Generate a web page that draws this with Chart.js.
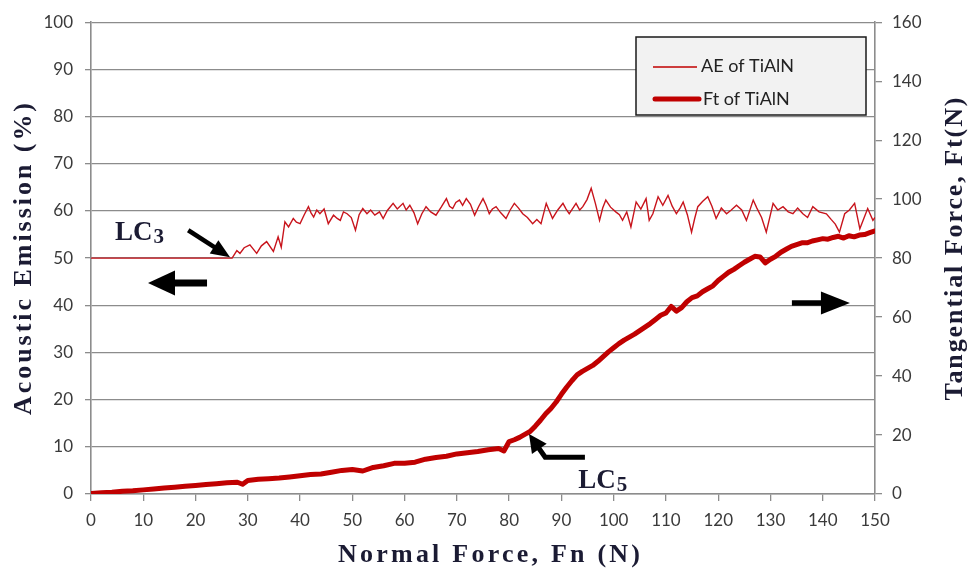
<!DOCTYPE html>
<html lang="en">
<head>
  <meta charset="UTF-8" />
  <title>AE and Ft of TiAlN</title>
  <script src="https://cdn.jsdelivr.net/npm/chart.js"></script>
  <style>
    html, body { margin: 0; padding: 0; background: white; }
    #wrap { width: 969px; height: 571px; }
  </style>
</head>
<body>
  <div id="wrap"><canvas id="scratch"></canvas></div>

  <script>
    // tick values
    const xTicks = [0, 10, 20, 30, 40, 50, 60, 70, 80, 90, 100, 110, 120, 130, 140, 150];
    const aeTicks = [0, 10, 20, 30, 40, 50, 60, 70, 80, 90, 100];
    const ftTicks = [0, 20, 40, 60, 80, 100, 120, 140, 160];

    // Acoustic emission (%) vs normal force (N)
    const aeX = [0, 27, 27.9, 28.5, 29.3, 30.4, 31.7, 32.6, 33.6, 34.9, 35.8, 36.4, 37.1, 37.8, 38.7, 39.3, 40, 40.8, 41.6, 42.1,
      42.6, 43.2, 43.8, 44.6, 45.4, 46.4, 47.1, 47.7, 48.3, 49, 49.8, 50.6, 51.3, 52, 52.8, 53.5, 54.3, 55.2, 55.9, 56.7,
      57.8, 58.6, 59.7, 60.3, 61, 61.8, 62.5, 63.3, 64.1, 65, 66, 67, 68, 68.6, 69.2, 69.8, 70.5, 71.1, 71.8, 72.6,
      73.4, 74.2, 75, 75.6, 76.2, 76.8, 77.5, 78.4, 79.4, 80.2, 81, 81.8, 82.6, 83.5, 84.5, 85.3, 86.1, 87.1, 87.7, 88.3,
      89.3, 90.3, 90.9, 91.5, 92.2, 92.8, 93.5, 94.1, 94.9, 95.7, 96.5, 97.3, 97.9, 98.5, 99.4, 100.4, 101.1, 101.7, 102.5, 103.3,
      104.3, 105.2, 106.2, 106.8, 107.5, 108.5, 109.4, 110.4, 111.2, 112, 112.7, 113.3, 114.1, 114.9, 115.5, 116.1, 117, 118, 118.8, 119.6,
      120.6, 121.6, 122.5, 123.5, 124.5, 125.4, 126.7, 127.4, 128.3, 129.2, 130.5, 131.4, 132.4, 133.4, 134.3, 135.2, 136.2, 137.1, 138.1, 139.3,
      140.7, 141.6, 142.4, 143.2, 144.2, 145.1, 146.1, 147.1, 148.6, 149.6, 150];
    const aeY = [50, 50, 51.6, 51, 52.2, 52.8, 51, 52.6, 53.5, 51.4, 54.5, 52.3, 57.7, 56.6, 58.4, 57.6, 57.3, 59.2, 60.9, 59.6,
      58.7, 60.2, 59.4, 60.4, 57.3, 59.1, 58.4, 58, 59.8, 59.4, 58.6, 55.9, 59.2, 60.5, 59.4, 60.2, 59.1, 59.8, 58.4, 60.1,
      61.6, 60.4, 61.6, 60.2, 61.2, 59.6, 57.3, 59.4, 60.9, 59.8, 59.1, 60.8, 62.6, 61, 60.5, 61.8, 62.3, 61.2, 62.6, 61.4,
      59.1, 61, 62.6, 61.2, 59.4, 60.4, 60.9, 59.6, 58.4, 60.2, 61.6, 60.6, 59.4, 58.6, 57.3, 58.2, 57.3, 61.6, 60, 58.4,
      60.2, 61.6, 60.4, 59.4, 60.6, 61.6, 60.2, 60.9, 62.4, 64.8, 61.6, 58, 60.6, 62.3, 60.8, 59.8, 59.2, 58, 59.8, 56.6,
      61.9, 60.4, 62.6, 58, 59.4, 63, 61.2, 63.3, 61, 59.4, 60.6, 61.9, 59.2, 55.5, 58.4, 60.9, 62, 63, 61, 58.4,
      60.6, 59.4, 60.2, 61.2, 60.2, 58, 62.3, 60.6, 58.6, 55.5, 61.6, 60.2, 60.9, 59.8, 59.4, 60.6, 59.4, 58.6, 60.9, 59.8,
      59.4, 58.2, 57.2, 55.5, 59.4, 60.2, 61.6, 56.2, 60.5, 58, 58.6];

    // Tangential force (N) vs normal force (N)
    const ftX = [0, 2, 4, 6, 8, 10, 12, 14, 16, 18, 20, 22, 24, 26, 28, 29, 30, 32, 34, 36,
      38, 40, 42, 44, 46, 48, 50, 52, 54, 56, 58, 60, 62, 64, 66, 68, 70, 72, 74, 76,
      78, 79, 80, 81, 82, 83, 84, 85, 86, 87, 88, 89, 90, 91, 92, 93, 94, 95, 96, 97,
      98, 99, 100, 101, 102, 103, 104, 105, 106, 107, 108, 109, 110, 111, 112, 113, 114, 115, 116, 117,
      118, 119, 120, 121, 122, 123, 124, 125, 126, 127, 128, 129, 130, 131, 132, 133, 134, 135, 136, 137,
      138, 139, 140, 141, 142, 143, 144, 145, 146, 147, 148, 149, 150];
    const ftY = [0.2, 0.4, 0.6, 0.9, 1.1, 1.4, 1.7, 2.0, 2.3, 2.6, 2.9, 3.2, 3.5, 3.8, 4.0, 3.3, 4.6, 5.0, 5.2, 5.4,
      5.8, 6.2, 6.6, 6.8, 7.4, 8.0, 8.3, 7.8, 9.0, 9.6, 10.4, 10.4, 10.8, 11.8, 12.4, 12.8, 13.6, 14.0, 14.4, 15.0,
      15.4, 14.6, 17.8, 18.4, 19.2, 20.2, 21.2, 23.0, 25.0, 27.2, 29.0, 31.2, 33.8, 36.2, 38.4, 40.4, 41.6, 42.6, 43.6, 45.0,
      46.6, 48.2, 49.6, 51.0, 52.2, 53.2, 54.2, 55.4, 56.6, 57.8, 59.2, 60.6, 61.4, 63.6, 62.0, 63.2, 65.2, 66.6, 67.2, 68.6,
      69.6, 70.6, 72.4, 73.8, 75.2, 76.2, 77.4, 78.6, 79.6, 80.6, 80.4, 78.4, 79.6, 80.6, 82.0, 83.0, 84.0, 84.6, 85.2, 85.2,
      85.8, 86.2, 86.6, 86.4, 87.0, 87.4, 86.8, 87.6, 87.2, 87.8, 88.0, 88.6, 89.2];

    const RED = "#c00000";
    const INK = "#1b1b33";
    const GRID = "#8c8c8c";
    const tickFont = { family: "Lato", size: 17 };

    const aeData = aeX.map((x, i) => ({ x: x, y: aeY[i] }));
    const ftData = ftX.map((x, i) => ({ x: x, y: ftY[i] }));

    function keepTicks(list) {
      return function (scale) { scale.ticks = list.map(v => ({ value: v })); };
    }

    // draws a filled arrow head at (x2,y2) pointing away from (x1,y1)
    function arrowHead(ctx, x1, y1, x2, y2, len, half) {
      const a = Math.atan2(y2 - y1, x2 - x1);
      ctx.beginPath();
      ctx.moveTo(x2, y2);
      ctx.lineTo(x2 - len * Math.cos(a) + half * Math.sin(a), y2 - len * Math.sin(a) - half * Math.cos(a));
      ctx.lineTo(x2 - len * Math.cos(a) - half * Math.sin(a), y2 - len * Math.sin(a) + half * Math.cos(a));
      ctx.closePath();
      ctx.fill();
    }

    function fitText(ctx, text, x, y, width, rot) {
      ctx.save();
      ctx.translate(x, y);
      ctx.rotate(rot);
      ctx.letterSpacing = "0px";
      const w = ctx.measureText(text).width;
      const sp = (width - w) / (text.length - 1);
      ctx.letterSpacing = sp + "px";
      ctx.textAlign = "left";
      ctx.textBaseline = "middle";
      ctx.fillText(text, -width / 2, 0);
      ctx.restore();
    }

    function labelLC(ctx, main, sub, x, y) {
      ctx.font = "bold 27px 'Liberation Serif'";
      ctx.textAlign = "left";
      ctx.textBaseline = "alphabetic";
      ctx.fillText(main, x, y);
      const w = ctx.measureText(main).width;
      ctx.font = "bold 21px 'Liberation Serif'";
      ctx.fillText(sub, x + w + 1, y + 3);
    }

    const decor = {
      id: "decor",
      afterDraw(chart) {
        const ctx = chart.ctx;
        const sx = chart.scales.x, sy = chart.scales.y;
        const px = v => sx.getPixelForValue(v);
        const py = v => sy.getPixelForValue(v);
        ctx.save();

        // axis titles
        ctx.fillStyle = INK;
        ctx.font = "bold 26px 'Liberation Serif'";
        fitText(ctx, "Acoustic Emission (%)", 24, 259, 312, -Math.PI / 2);
        fitText(ctx, "Tangential Force, Ft(N)", 955, 249, 303, -Math.PI / 2);
        fitText(ctx, "Normal Force, Fn (N)", 489, 555, 302, 0);

        // legend box
        ctx.fillStyle = "#f2f2f2";
        ctx.fillRect(636, 37, 230, 78);
        ctx.strokeStyle = "#1a1a1a";
        ctx.lineWidth = 1.5;
        ctx.strokeRect(636, 37, 230, 78);
        ctx.strokeStyle = RED;
        ctx.lineCap = "butt";
        ctx.lineWidth = 1.5;
        ctx.beginPath(); ctx.moveTo(653, 67); ctx.lineTo(697, 67); ctx.stroke();
        ctx.lineWidth = 5;
        ctx.lineCap = "round";
        ctx.beginPath(); ctx.moveTo(655, 99); ctx.lineTo(699, 99); ctx.stroke();
        ctx.fillStyle = "#222";
        ctx.font = "18px 'Lato'";
        ctx.textAlign = "left";
        ctx.textBaseline = "middle";
        ctx.fillText("AE of TiAlN", 701, 66);
        ctx.fillText("Ft of TiAlN", 703, 99);

        // LC labels
        ctx.fillStyle = INK;
        labelLC(ctx, "LC", "3", px(4.6), py(53.8));
        labelLC(ctx, "LC", "5", px(93.2), py(1.2));

        // arrows
        ctx.fillStyle = "#000";
        ctx.strokeStyle = "#000";
        ctx.lineCap = "butt";
        ctx.lineJoin = "miter";

        // LC3 pointer
        let x1 = px(18.6), y1 = py(55.9), x2 = px(26.6), y2 = py(50.2);
        ctx.lineWidth = 4.5;
        ctx.beginPath(); ctx.moveTo(x1, y1); ctx.lineTo(x2 - (x2 - x1) * 0.3, y2 - (y2 - y1) * 0.3); ctx.stroke();
        arrowHead(ctx, x1, y1, x2, y2, 19, 8);

        // LC5 elbow pointer
        x1 = px(86.9); y1 = py(7.8); x2 = px(83.8); y2 = py(12.7);
        ctx.lineWidth = 5;
        ctx.beginPath(); ctx.moveTo(px(94.5), y1); ctx.lineTo(x1, y1); ctx.lineTo(x1 - (x1 - x2) * 0.4, y1 - (y1 - y2) * 0.4); ctx.stroke();
        arrowHead(ctx, x1, y1, x2, y2, 18, 9);

        // left axis arrow
        x1 = px(22.2); y1 = py(44.7); x2 = px(10.9); y2 = y1;
        ctx.lineWidth = 7;
        ctx.beginPath(); ctx.moveTo(x1, y1); ctx.lineTo(x2 + 20, y2); ctx.stroke();
        arrowHead(ctx, x1, y1, x2, y2, 27, 12.5);

        // right axis arrow
        x1 = px(134.1); y1 = py(40.5); x2 = px(145.2); y2 = y1;
        ctx.lineWidth = 5.5;
        ctx.beginPath(); ctx.moveTo(x1, y1); ctx.lineTo(x2 - 20, y2); ctx.stroke();
        arrowHead(ctx, x1, y1, x2, y2, 29, 11.5);

        ctx.restore();
      }
    };

    const canvas = document.getElementById("scratch");
    canvas.width = 969;
    canvas.height = 571;

    new Chart(canvas, {
      type: "line",
      data: {
        datasets: [
          {
            label: "AE of TiAlN",
            data: aeData,
            yAxisID: "y",
            borderColor: "#c8141c",
            borderWidth: 1.4,
            pointRadius: 0,
            tension: 0,
            order: 2,
          },
          {
            label: "Ft of TiAlN",
            data: ftData,
            yAxisID: "y2",
            borderColor: RED,
            borderWidth: 5,
            borderCapStyle: "round",
            borderJoinStyle: "round",
            pointRadius: 0,
            tension: 0,
            order: 1,
          },
        ],
      },
      options: {
        responsive: false,
        animation: false,
        events: [],
        layout: { padding: { top: 22, left: 0, right: 0, bottom: 0 } },
        plugins: {
          legend: { display: false },
          tooltip: { enabled: false },
        },
        scales: {
          x: {
            type: "linear",
            min: 0,
            max: 150,
            afterBuildTicks: keepTicks(xTicks),
            afterFit(s) { s.height = 77; },
            ticks: { color: "#3a3a3a", font: tickFont, padding: 9, maxRotation: 0 },
            grid: { drawOnChartArea: false, color: GRID, lineWidth: 1.3, tickLength: 7 },
            border: { color: GRID, width: 1.6 },
          },
          y: {
            position: "left",
            min: 0,
            max: 100,
            afterBuildTicks: keepTicks(aeTicks),
            afterFit(s) { s.width = 91; },
            ticks: { color: "#3a3a3a", font: tickFont, padding: 12 },
            grid: { color: GRID, lineWidth: 1.3, tickLength: 6 },
            border: { color: GRID, width: 1.6 },
          },
          y2: {
            position: "right",
            min: 0,
            max: 160,
            afterBuildTicks: keepTicks(ftTicks),
            afterFit(s) { s.width = 94; },
            ticks: { color: "#3a3a3a", font: tickFont, padding: 10 },
            grid: { drawOnChartArea: false, color: GRID, lineWidth: 1.3, tickLength: 7 },
            border: { color: GRID, width: 1.6 },
          },
        },
      },
      plugins: [decor],
    });
  </script>
</body>
</html>
